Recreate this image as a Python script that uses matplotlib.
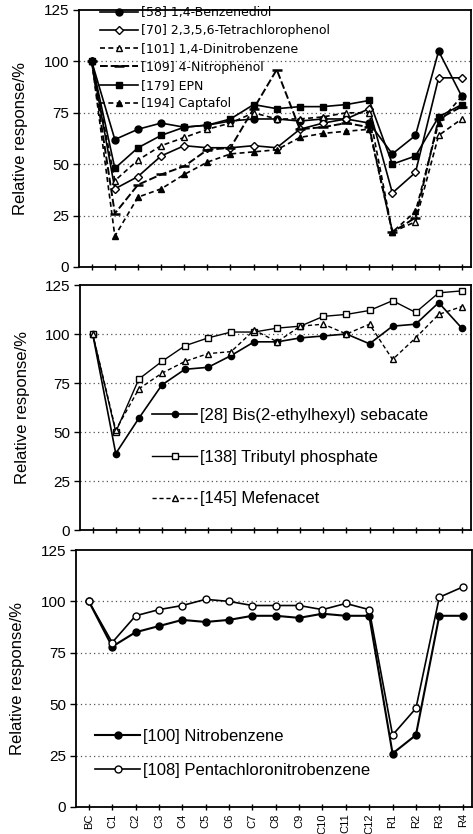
from matplotlib import pyplot as plt
import numpy

# x categories: blank control, 12 contaminated injections, 4 recovery injections
categories = ['BC', 'C1', 'C2', 'C3', 'C4', 'C5', 'C6', 'C7', 'C8', 'C9', 'C10',
              'C11', 'C12', 'R1', 'R2', 'R3', 'R4']

# top panel
benzenediol = [100, 62, 67, 70, 68, 69, 71, 72, 72, 71, 72, 72, 70, 55, 64, 105, 83]
tetrachlorophenol = [100, 38, 44, 54, 59, 58, 58, 59, 58, 67, 70, 72, 77, 36, 46, 92, 92]
dinitrobenzene = [100, 42, 52, 59, 63, 67, 70, 75, 72, 72, 73, 75, 75, 17, 22, 64, 72]
nitrophenol = [100, 26, 40, 45, 49, 57, 58, 77, 96, 67, 68, 70, 68, 17, 24, 72, 78]
epn = [100, 48, 58, 64, 68, 69, 72, 79, 77, 78, 78, 79, 81, 50, 54, 73, 79]
captafol = [100, 15, 34, 38, 45, 51, 55, 56, 57, 63, 65, 66, 67, 17, 27, 70, 83]

# middle panel
sebacate = [100, 39, 57, 74, 82, 83, 89, 96, 96, 98, 99, 100, 95, 104, 105, 116, 103]
tributyl = [100, 50, 77, 86, 94, 98, 101, 101, 103, 104, 109, 110, 112, 117, 111, 121, 122]
mefenacet = [100, 51, 72, 80, 86, 90, 91, 102, 96, 104, 105, 100, 105, 87, 98, 110, 114]

# bottom panel
nitrobenzene = [100, 78, 85, 88, 91, 90, 91, 93, 93, 92, 94, 93, 93, 26, 35, 93, 93]
pentachloronitrobenzene = [100, 80, 93, 96, 98, 101, 100, 98, 98, 98, 96, 99, 96, 35, 48, 102, 107]

W, H = 473, 834
ARIAL = 'Liberation Sans'


def px_axes(fig, left, top, width, height):
    return fig.add_axes([left / W, 1 - (top + height) / H, width / W, height / H])


def style_axes(ax, show_xlabels=False):
    x = numpy.arange(len(categories))
    ax.set_xlim(-0.55, 16.4)
    ax.set_ylim(0, 125)
    ax.set_yticks([0, 25, 50, 75, 100, 125])
    for v in [25, 50, 75, 100]:
        ax.axhline(v, color='#555555', linestyle=(0, (1, 2.5)), linewidth=0.9, zorder=0)
    ax.set_xticks(x)
    if show_xlabels:
        ax.set_xticklabels(categories, rotation=90, fontsize=8, family=ARIAL)
    else:
        ax.set_xticklabels([])
    for s in ax.spines.values():
        s.set_linewidth(1.3)
    ax.tick_params(axis='x', direction='inout', length=5, width=1.0, pad=2)
    ax.tick_params(axis='y', direction='out', length=4, width=1.0, labelsize=11, pad=3)
    for lab in ax.get_yticklabels():
        lab.set_family(ARIAL)
    ax.set_ylabel('Relative response/%', fontsize=12, family=ARIAL, labelpad=11)
    return x


def main():
    fig = plt.figure(figsize=(W / 100, H / 100), dpi=100)

    # ---- top panel
    ax1 = px_axes(fig, 79, 10, 392, 257)
    x = style_axes(ax1)
    kw = dict(color='black', linewidth=1.2, markersize=5)
    ax1.plot(x, benzenediol, '-', marker='o', label='[58] 1,4-Benzenediol', **kw)
    ax1.plot(x, tetrachlorophenol, '-', marker='D', mfc='white', label='[70] 2,3,5,6-Tetrachlorophenol',
             color='black', linewidth=1.2, markersize=4.5)
    ax1.plot(x, dinitrobenzene, linestyle=(0, (3, 2)), marker='^', mfc='white',
             label='[101] 1,4-Dinitrobenzene', **kw)
    ax1.plot(x, nitrophenol, linestyle=(0, (4, 1.5)), marker='_', mew=1.8,
             label='[109] 4-Nitrophenol', color='black', linewidth=1.4, markersize=7)
    ax1.plot(x, epn, '-', marker='s', label='[179] EPN', **kw)
    ax1.plot(x, captafol, linestyle=(0, (3, 2)), marker='^', label='[194] Captafol', **kw)
    leg1 = ax1.legend(loc='upper left', bbox_to_anchor=(100 / W, 1 - 6 / H),
                      bbox_transform=fig.transFigure, frameon=False, fontsize=9,
                      handlelength=3.0, handletextpad=0.3, labelspacing=0.42,
                      borderpad=0, borderaxespad=0)
    leg1.set_zorder(2)

    # ---- middle panel
    ax2 = px_axes(fig, 80, 285, 391, 245)
    x = style_axes(ax2)
    ax2.plot(x, sebacate, '-', marker='o', label='[28] Bis(2-ethylhexyl) sebacate',
             color='black', linewidth=1.2, markersize=4.5)
    ax2.plot(x, tributyl, '-', marker='s', mfc='white', label='[138] Tributyl phosphate',
             color='black', linewidth=1.0, markersize=4.5)
    ax2.plot(x, mefenacet, linestyle=(0, (3, 2)), marker='^', mfc='white', label='[145] Mefenacet',
             color='black', linewidth=1.0, markersize=5)
    ax2.legend(loc='upper left', bbox_to_anchor=(152 / W, 1 - 408 / H),
               bbox_transform=fig.transFigure, frameon=False,
               prop={'family': ARIAL, 'size': 12},
               handlelength=2.7, handletextpad=0.2, labelspacing=1.6,
               borderpad=0, borderaxespad=0)

    # ---- bottom panel
    ax3 = px_axes(fig, 76, 550, 396, 257)
    x = style_axes(ax3, show_xlabels=True)
    ax3.plot(x, nitrobenzene, '-', marker='o', label='[100] Nitrobenzene',
             color='black', linewidth=1.5, markersize=5)
    ax3.plot(x, pentachloronitrobenzene, '-', marker='o', mfc='white',
             label='[108] Pentachloronitrobenzene',
             color='black', linewidth=1.2, markersize=5)
    ax3.legend(loc='upper left', bbox_to_anchor=(95 / W, 1 - 729 / H),
               bbox_transform=fig.transFigure, frameon=False,
               prop={'family': ARIAL, 'size': 12},
               handlelength=2.7, handletextpad=0.2, labelspacing=1.15,
               borderpad=0, borderaxespad=0)

    fig.savefig('out.png', dpi=100)


if __name__ == '__main__':
    main()
